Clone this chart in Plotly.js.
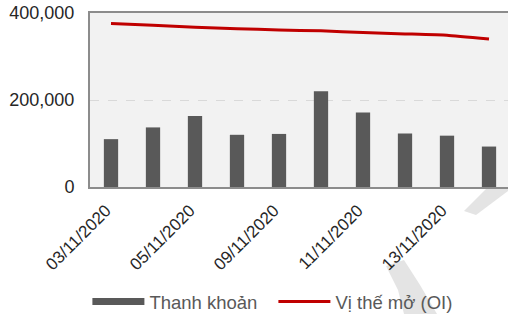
<!DOCTYPE html>
<html>
<head>
<meta charset="utf-8">
<script src="https://cdn.plot.ly/plotly-3.0.1.min.js"></script>
<style>html,body{margin:0;padding:0;background:#fff;overflow:hidden}#chart{width:508px;height:314px}</style>
</head>
<body>
<div id="chart"></div>
<script>
const categories = ['03/11/2020','04/11/2020','05/11/2020','06/11/2020','09/11/2020','10/11/2020','11/11/2020','12/11/2020','13/11/2020','16/11/2020'];
const liquidity = [110000,137000,163000,120000,122000,220000,171000,123000,118000,93000];
const openInterest = [376000,372000,367000,364000,361000,359000,355000,352000,349000,340000];
const yTicks = [0,200000,400000];
const seriesNames = ['Thanh khoản','Vị thế mở (OI)'];

const W = 508, H = 314, L = 90, T = 13, B = 127;
const PW = W - L, PH = H - T - B;
const px = x => (x - L) / PW;
const py = y => (H - B - y) / PH;
function poly(pts){ return 'M' + pts.map(p => px(p[0]) + ',' + py(p[1])).join(' L') + ' Z'; }

const traces = [
  {type:'bar', x:categories, y:liquidity, name:seriesNames[0], showlegend:false,
   marker:{color:'#595959'}, width:0.34, hoverinfo:'skip'},
  {type:'scatter', mode:'lines', x:[categories[0]], y:[null], name:seriesNames[0],
   line:{color:'#595959', width:7}, hoverinfo:'skip'},
  {type:'scatter', mode:'lines', x:categories, y:openInterest, name:seriesNames[1],
   line:{color:'#c00000', width:3, shape:'spline', smoothing:0.4}, hoverinfo:'skip'}
];

const layout = {
  width:W, height:H,
  margin:{l:L, r:0, t:T, b:B, pad:0},
  paper_bgcolor:'#ffffff', plot_bgcolor:'#f2f2f2',
  font:{family:'"Liberation Sans", Arial, sans-serif', size:18, color:'#262626'},
  showlegend:true,
  legend:{orientation:'h', xref:'container', yref:'container', x:87.4/508, xanchor:'left', y:1-302/314, yanchor:'middle',
          font:{size:18.5, color:'#595959'}, itemwidth:52, entrywidth:119, bgcolor:'rgba(0,0,0,0)', traceorder:'normal', itemclick:false},
  xaxis:{type:'category', range:[-0.5, -0.5 + PW/42], tickvals:categories.filter((_, i) => i % 2 === 0),
         tickangle:-45, tickfont:{size:17}, showline:true, mirror:true, linecolor:'#8c8c8c', linewidth:2, showgrid:false,
         ticks:'', ticklabelstandoff:5, ticklabelshift:-5, zeroline:false, fixedrange:true},
  yaxis:{range:[0,400000], tickvals:yTicks, tickformat:',d', showline:true, linecolor:'#8c8c8c', linewidth:2,
         showgrid:true, gridcolor:'#d9d9d9', griddash:'dash', gridwidth:1, zeroline:false, ticks:'',
         ticklabelstandoff:10, fixedrange:true},
  shapes:[
    {type:'path', xref:'paper', yref:'paper', layer:'below', line:{width:0}, fillcolor:'#e4e4e4',
     path:poly([[487,188],[508,188],[508,191],[476,215],[464,211]])},
    {type:'path', xref:'paper', yref:'paper', layer:'below', line:{width:0}, fillcolor:'#e4e4e4',
     path:poly([[386,266],[404,260],[420,285],[437,314],[404,314],[398,290]])}
  ],
  bargap:0.66
};

Plotly.newPlot('chart', traces, layout, {staticPlot:true, displayModeBar:false});
</script>
</body>
</html>
